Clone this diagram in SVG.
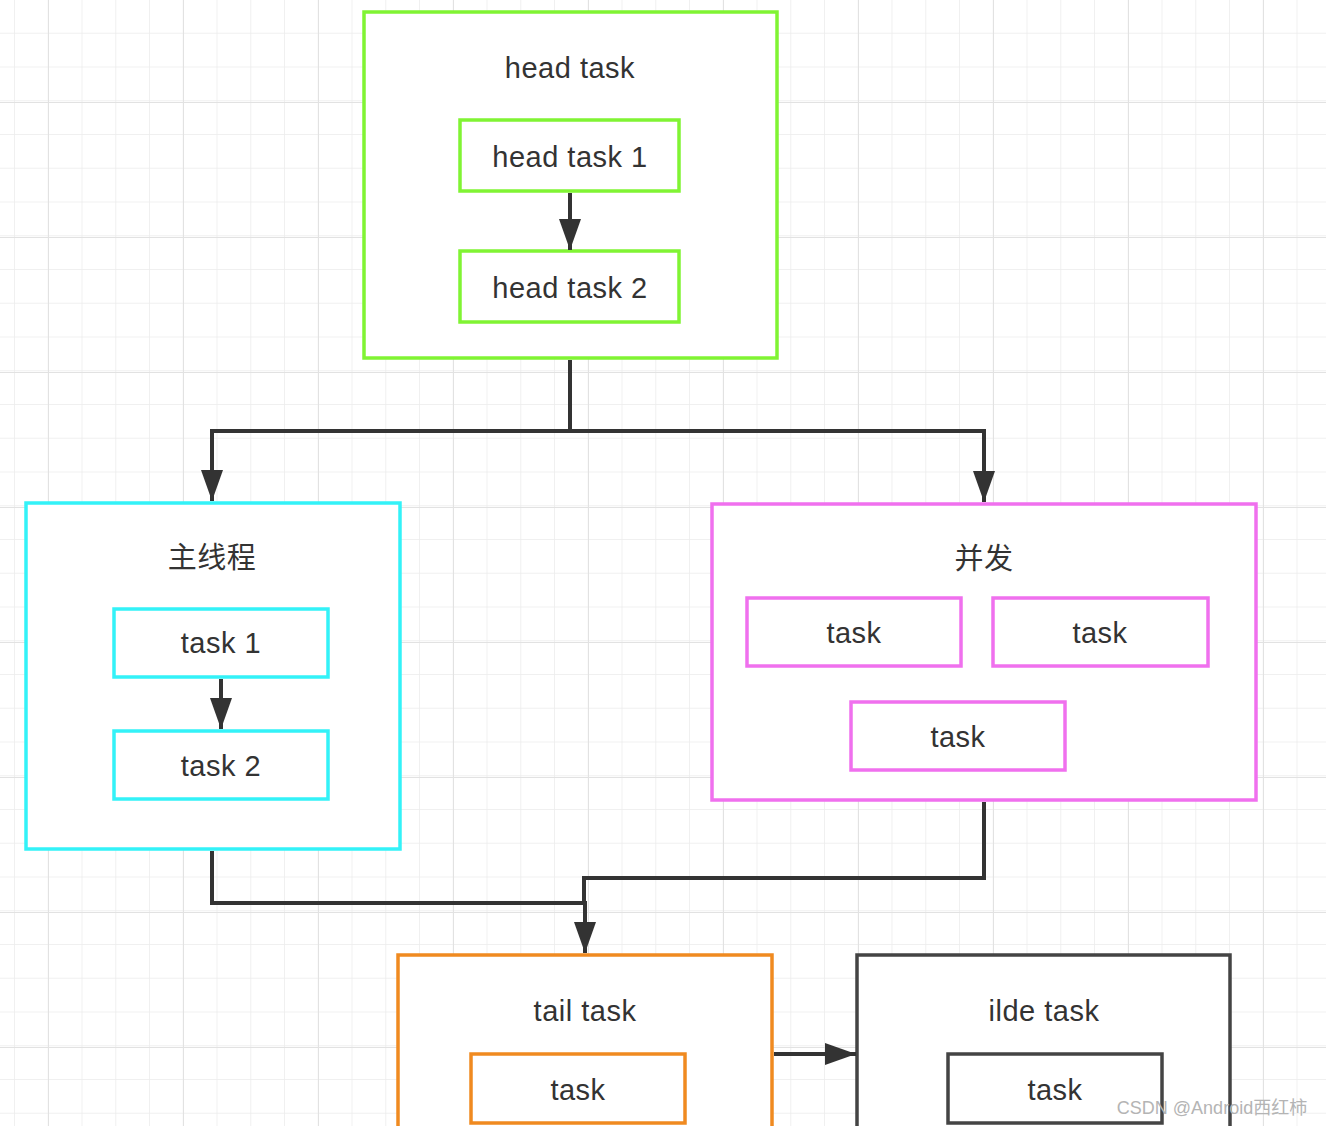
<svg xmlns="http://www.w3.org/2000/svg" width="1326" height="1126" viewBox="0 0 1326 1126">
<defs>
<pattern id="minor" x="14" y="-1" width="33.75" height="33.75" patternUnits="userSpaceOnUse">
<path d="M0 0H33.75M0 0V33.75" fill="none" stroke="#ececec" stroke-width="1.5"/>
</pattern>
<pattern id="major" x="48" y="102" width="135" height="135" patternUnits="userSpaceOnUse">
<path d="M0 0H135M0 0V135" fill="none" stroke="#e2e2e2" stroke-width="2"/>
</pattern>
<marker id="arr" markerUnits="userSpaceOnUse" markerWidth="32" markerHeight="22" refX="31" refY="11" orient="auto">
<path d="M0 0L31 11L0 22Z" fill="#333"/>
</marker>
<style>
.t{font-family:"Liberation Sans","Noto Sans CJK SC",sans-serif;font-size:29px;fill:#333;text-anchor:middle;letter-spacing:0.5px}
.g{fill:#fff;stroke:#80f433;stroke-width:3.5}
.c{fill:#fff;stroke:#33f2f8;stroke-width:3.5}
.m{fill:#fff;stroke:#f070ee;stroke-width:3.5}
.o{fill:#fff;stroke:#f08a20;stroke-width:3.5}
.k{fill:#fff;stroke:#444;stroke-width:3.5}
.ln{fill:none;stroke:#333;stroke-width:4}
</style>
</defs>
<rect width="1326" height="1126" fill="#fff"/>
<rect width="1326" height="1126" fill="url(#minor)"/>
<rect width="1326" height="1126" fill="url(#major)"/>

<g id="head-group">
<rect class="g" x="364" y="12" width="413" height="346"/>
<text class="t" x="570" y="78">head task</text>
</g>
<g id="head-task-1">
<rect class="g" x="460" y="120" width="219" height="71"/>
<text class="t" x="570" y="167">head task 1</text>
</g>
<g id="head-task-2">
<rect class="g" x="460" y="251" width="219" height="71"/>
<text class="t" x="570" y="298">head task 2</text>
</g>

<g id="main-thread">
<rect class="c" x="26" y="503" width="374" height="346"/>
<text class="t" x="212" y="568">主线程</text>
</g>
<g id="task-1">
<rect class="c" x="114" y="609" width="214" height="68"/>
<text class="t" x="221" y="653">task 1</text>
</g>
<g id="task-2">
<rect class="c" x="114" y="731" width="214" height="68"/>
<text class="t" x="221" y="776">task 2</text>
</g>

<g id="concurrent">
<rect class="m" x="712" y="504" width="544" height="296"/>
<text class="t" x="984" y="569">并发</text>
</g>
<g id="c-task-1">
<rect class="m" x="747" y="598" width="214" height="68"/>
<text class="t" x="854" y="643">task</text>
</g>
<g id="c-task-2">
<rect class="m" x="993" y="598" width="215" height="68"/>
<text class="t" x="1100" y="643">task</text>
</g>
<g id="c-task-3">
<rect class="m" x="851" y="702" width="214" height="68"/>
<text class="t" x="958" y="747">task</text>
</g>

<g id="tail-task">
<rect class="o" x="398" y="955" width="374" height="190"/>
<text class="t" x="585" y="1021">tail task</text>
</g>
<g id="tail-inner">
<rect class="o" x="471" y="1054" width="214" height="69"/>
<text class="t" x="578" y="1100">task</text>
</g>

<g id="idle-task">
<rect class="k" x="857" y="955" width="373" height="190"/>
<text class="t" x="1044" y="1021">ilde task</text>
</g>
<g id="idle-inner">
<rect class="k" x="948" y="1054" width="214" height="69"/>
<text class="t" x="1055" y="1100">task</text>
</g>

<g id="connectors">
<path class="ln" d="M570 193V250" marker-end="url(#arr)"/>
<path class="ln" d="M221 679V729" marker-end="url(#arr)"/>
<path class="ln" d="M570 360V431H212V501" marker-end="url(#arr)"/>
<path class="ln" d="M570 431H984V502" marker-end="url(#arr)"/>
<path class="ln" d="M212 851V903H585V953" marker-end="url(#arr)"/>
<path class="ln" d="M984 802V878H584V903"/>
<path class="ln" d="M774 1054H856" marker-end="url(#arr)"/>
</g>

<text x="1212" y="1114" style="font-family:'Liberation Sans','Noto Sans CJK SC',sans-serif;font-size:18px;fill:#b4b4b4;text-anchor:middle">CSDN @Android西红柿</text>
</svg>
